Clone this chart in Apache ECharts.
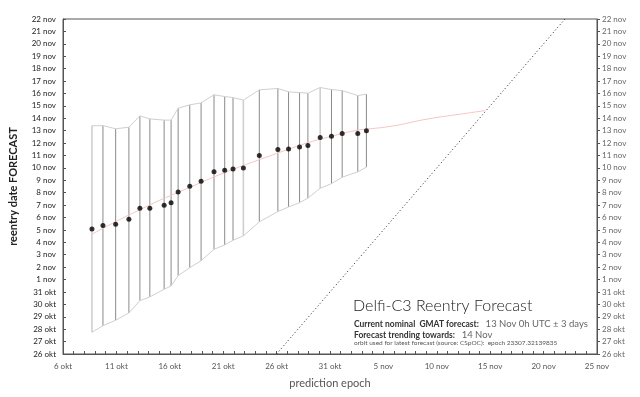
<!DOCTYPE html>
<html>
<head>
<meta charset="utf-8">
<script src="https://cdn.jsdelivr.net/npm/echarts@6/dist/echarts.min.js"></script>
<style>
  html, body { margin: 0; padding: 0; background: #fff; }
  #chart { width: 640px; height: 397px; }
</style>
</head>
<body>
<div id="chart"></div>
<script>
// all dates are in days since 1 okt (so 6 okt = 5, 1 nov = 31)
const monthNames = ["okt", "nov"];
const daysInOkt = 31;

const epochs = [7.71, 8.74, 9.93, 11.17, 12.2, 13.13, 14.47, 15.12, 15.78, 16.87, 17.93, 19.14, 20.14,
  20.92, 21.89, 23.38, 25.12, 26.12, 27.15, 27.93, 29.08, 30.14, 31.14, 32.6, 33.41];
const reentry = [35.08, 35.35, 35.46, 35.86, 36.75, 36.75, 36.99, 37.2, 38.06, 38.52, 38.93, 39.68, 39.81,
  39.92, 40.0, 40.99, 41.48, 41.53, 41.69, 41.8, 42.44, 42.55, 42.77, 42.77, 43.0];
const upper = [43.39, 43.41, 43.15, 43.28, 44.19, 43.95, 43.85, 43.85, 44.81, 45.08, 45.24, 45.89, 45.75,
  45.67, 45.46, 46.29, 46.4, 46.13, 46.07, 46.02, 46.48, 46.31, 46.23, 45.83, 45.94];
const lower = [26.75, 27.28, 27.72, 28.31, 29.3, 29.6, 30.22, 30.48, 31.31, 31.96, 32.52, 33.44, 33.79,
  34.17, 34.52, 35.65, 36.48, 36.85, 37.2, 37.56, 38.36, 38.73, 39.25, 39.68, 40.06];

// trend line
const trendX = [7.71, 11.17, 15.8, 23.35, 31.14, 35.96, 39.08, 42.2, 44.53];
const trendY = [34.65, 36.2, 38.04, 40.65, 42.77, 43.39, 43.93, 44.33, 44.62];

// reentry date == epoch
const diagonal = [25, 52];

const lightBars = [0, 14, 20];
const font = "Lato, 'Open Sans', sans-serif";

function dayLabel(v) {
  const d = Math.round(v) + 1;
  return d <= daysInOkt ? d + " " + monthNames[0] : (d - daysInOkt) + " " + monthNames[1];
}

const chart = echarts.init(document.getElementById("chart"), null, { renderer: "canvas" });

const yCommon = {
  type: "value",
  min: 25,
  max: 52,
  interval: 1,
  splitLine: { show: false },
  axisLine: { show: true, lineStyle: { color: "#555", width: 1 } },
};

chart.setOption({
  animation: false,
  grid: {
    left: 62, right: 43, top: 19, bottom: 43,
    show: true, borderColor: "#555", borderWidth: 1,
  },
  xAxis: {
    type: "value",
    min: 5,
    max: 55,
    interval: 5,
    name: "prediction epoch",
    nameLocation: "middle",
    nameGap: 24,
    nameTextStyle: { fontFamily: font, fontSize: 11, color: "#555" },
    splitLine: { show: false },
    axisLine: { lineStyle: { color: "#555" } },
    axisTick: { inside: true, length: 3, lineStyle: { color: "#555" } },
    minorTick: { show: true, splitNumber: 5, length: 3, lineStyle: { color: "#555" } },
    axisLabel: { formatter: dayLabel, fontFamily: font, fontSize: 8, color: "#555", margin: 8 },
  },
  yAxis: [
    Object.assign({}, yCommon, {
      position: "left",
      name: "reentry date FORECAST",
      nameLocation: "middle",
      nameGap: 44,
      nameTextStyle: { fontFamily: font, fontSize: 11, color: "#222", fontWeight: "bold" },
      axisTick: { inside: true, length: 3, lineStyle: { color: "#555" } },
      axisLabel: { formatter: dayLabel, fontFamily: font, fontSize: 8, color: "#222", margin: 7 },
    }),
    Object.assign({}, yCommon, {
      position: "right",
      axisTick: { inside: false, length: 3, lineStyle: { color: "#555" } },
      axisLabel: { formatter: dayLabel, fontFamily: font, fontSize: 8, color: "#666", margin: 5 },
    }),
  ],
  series: [
    {
      type: "line",
      data: diagonal.map((v) => [v, v]),
      symbol: "none",
      lineStyle: { color: "#222", width: 1, type: [1, 2.5] },
      z: 1,
    },
    {
      type: "custom",
      data: epochs.map((x, i) => [x, lower[i], upper[i]]),
      encode: { x: 0, y: [1, 2] },
      renderItem(params, api) {
        const p1 = api.coord([api.value(0), api.value(1)]);
        const p2 = api.coord([api.value(0), api.value(2)]);
        const light = lightBars.includes(params.dataIndex);
        return {
          type: "line",
          shape: { x1: p1[0], y1: p1[1], x2: p2[0], y2: p2[1] },
          style: { stroke: light ? "#cfcfcf" : "#8a8a8a", lineWidth: light ? 1.6 : 1 },
        };
      },
      z: 2,
    },
    {
      type: "line",
      data: epochs.map((x, i) => [x, upper[i]]),
      symbol: "none",
      lineStyle: { color: "#cfcfcf", width: 1 },
      z: 2,
    },
    {
      type: "line",
      data: epochs.map((x, i) => [x, lower[i]]),
      symbol: "none",
      lineStyle: { color: "#cfcfcf", width: 1 },
      z: 2,
    },
    {
      type: "line",
      data: trendX.map((x, i) => [x, trendY[i]]),
      smooth: true,
      symbol: "none",
      lineStyle: { color: "#f7c4c4", width: 1 },
      z: 3,
    },
    {
      type: "scatter",
      data: epochs.map((x, i) => [x, reentry[i]]),
      symbolSize: 5,
      itemStyle: { color: "#000" },
      z: 4,
    },
  ],
  graphic: [
    {
      type: "text",
      left: 353,
      top: 298,
      style: { text: "Delfi-C3 Reentry Forecast", font: "300 16px " + font, fill: "#1a1a1a" },
    },
    {
      type: "text",
      left: 354,
      top: 318,
      style: {
        text: "{b|Current nominal  GMAT forecast:}  {v|13 Nov 0h UTC ± 3 days}",
        rich: {
          b: { fontFamily: font, fontSize: 8.5, fontWeight: "bold", fill: "#333" },
          v: { fontFamily: font, fontSize: 9.5, fill: "#666" },
        },
      },
    },
    {
      type: "text",
      left: 354,
      top: 329,
      style: {
        text: "{b|Forecast trending towards:}  {v|14 Nov}",
        rich: {
          b: { fontFamily: font, fontSize: 8.5, fontWeight: "bold", fill: "#333" },
          v: { fontFamily: font, fontSize: 9.5, fill: "#666" },
        },
      },
    },
    {
      type: "text",
      left: 354,
      top: 339,
      style: {
        text: "orbit used for latest forecast (source: CSpOC):  epoch 23307.32139835",
        font: "6.5px " + font,
        fill: "#555",
      },
    },
  ],
});
</script>
</body>
</html>
